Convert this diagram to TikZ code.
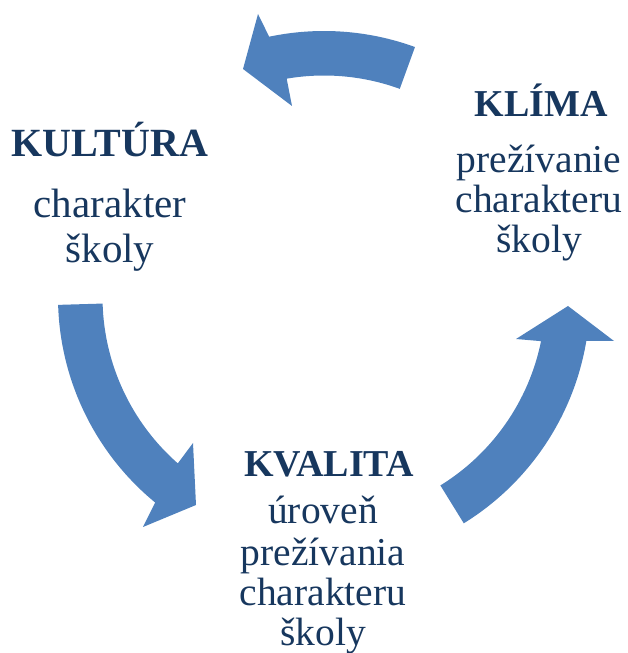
\documentclass[tikz,border=0pt]{standalone}
\usepackage{fontspec}
\setmainfont{Liberation Serif}
\usetikzlibrary{calc}
\definecolor{arrowblue}{RGB}{79,129,189}
\definecolor{textnavy}{RGB}{23,55,94}
\begin{document}
\begin{tikzpicture}[x=1pt,y=1pt,
  cyclearrow/.style={fill=arrowblue,draw=none},
  titletext/.style={anchor=base,inner sep=0pt,text=textnavy,font=\fontsize{38}{40}\selectfont\bfseries},
  bodytext/.style={anchor=base,inner sep=0pt,text=textnavy,font=\fontsize{39.5}{40}\selectfont},
  bigtitle/.style={titletext,font=\fontsize{40}{42}\selectfont\bfseries},
  bigbody/.style={bodytext,font=\fontsize{41}{42}\selectfont}]
\useasboundingbox (0,0) rectangle (627,653);
\coordinate (C) at (324,356);
% top arrow (right to left)
\coordinate (tw1) at (258,639);
\coordinate (ttip) at (243,584);
\coordinate (tw2) at (292,547);
\fill[cyclearrow] ($(C)+(70:266)$) arc[start angle=70,end angle=101.9,radius=266]
  -- (tw1) -- (ttip) -- (tw2)
  -- ($(C)+(99.7:221.5)$) arc[start angle=99.7,end angle=70,radius=221.5] -- cycle;
% left arrow (downwards)
\coordinate (lw1) at (143,126);
\coordinate (ltip) at (196,148);
\coordinate (lw2) at (193,210);
\fill[cyclearrow] ($(C)+(181.7:266)$) arc[start angle=181.7,end angle=230.6,radius=266]
  -- (lw1) -- (ltip) -- (lw2)
  -- ($(C)+(228.7:221.5)$) arc[start angle=228.7,end angle=181.7,radius=221.5] -- cycle;
% right arrow (upwards)
\coordinate (rw1) at (614,312);
\coordinate (rtip) at (568,347);
\coordinate (rw2) at (516,314);
\fill[cyclearrow] ($(C)+(-58.3:266)$) arc[start angle=-58.3,end angle=-9.5,radius=266]
  -- (rw1) -- (rtip) -- (rw2)
  -- ($(C)+(-11.5:221.5)$) arc[start angle=-11.5,end angle=-58.3,radius=221.5] -- cycle;
% texts
\node[bigtitle] (kul) at (110,496) {KULTÚRA};
\node[bigbody] (kul1) at (110,435) {charakter};
\node[bigbody] (kul2) at (110,390) {školy};
\node[titletext] (kli) at (541,536) {KLÍMA};
\node[bodytext] (kli1) at (539,480) {prežívanie};
\node[bodytext] (kli2) at (539,440) {charakteru};
\node[bodytext] (kli3) at (539,400) {školy};
\node[titletext] (kva) at (329,176) {KVALITA};
\node[bodytext] (kva1) at (323,129) {úroveň};
\node[bodytext] (kva2) at (323,87) {prežívania};
\node[bodytext] (kva3) at (323,47) {charakteru};
\node[bodytext] (kva4) at (323,8) {školy};
\end{tikzpicture}
\end{document}
